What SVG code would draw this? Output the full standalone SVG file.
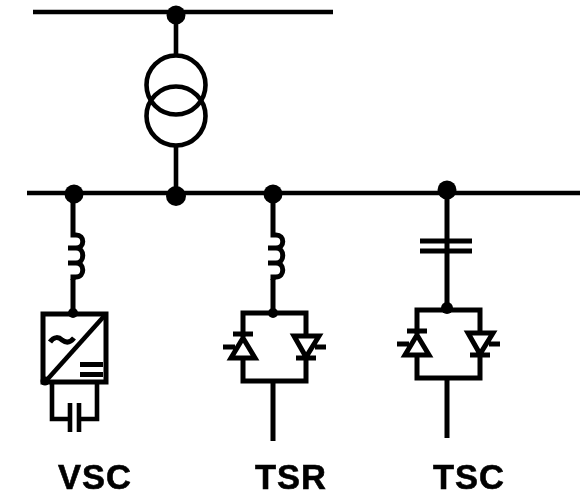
<svg xmlns="http://www.w3.org/2000/svg" width="580" height="496" viewBox="0 0 580 496">
<style>
.l{fill:none;stroke:#000;stroke-width:5}
.c{fill:none;stroke:#000;stroke-width:4.600}
.d{fill:#000}
.lb{font-family:"Liberation Sans",Arial,sans-serif;font-weight:700;font-size:34.500px;letter-spacing:1px;fill:#000;stroke:#000;stroke-width:0.600;text-anchor:middle}
</style>
<defs>
<filter id="soft" x="-5%" y="-5%" width="110%" height="110%"><feGaussianBlur stdDeviation="0.7"/></filter>
<path id="ind" class="l" d="M0 0V2H3C12 2 12 15 3 15H-5M3 15C12 15 12 30 3 30H-5M3 30C12 30 12 44 3 44H0V47"/>
<g id="thy">
<path class="l" d="M-30 -13V-37H33V-14M-30 8V31H33V7"/>
<path class="l" d="M-30 -12L-42 8H-18ZM-40 -16H-20M-50 -3H-38"/>
<path class="l" d="M33 7L21 -14H46ZM23 8H43M42 -3H53"/>
</g>
</defs>
<g filter="url(#soft)">
<g id="connectors">
<path class="c" d="M33 12H333"/>
<path class="c" d="M27 193H580"/>
<path class="c" d="M176 15V55M176 146V196"/>
<path class="l" d="M73 195V233M73 279V313"/>
<path class="l" d="M273 193V233M273 279V313M273 381V441"/>
<path class="l" d="M447 190V309M447 378V438"/>
</g>
<g id="bus-dots">
<circle class="d" cx="176" cy="15" r="9.500"/>
<circle class="d" cx="176" cy="196" r="10"/>
<circle class="d" cx="74" cy="194" r="9.500"/>
<circle class="d" cx="273" cy="194" r="9.500"/>
<circle class="d" cx="447" cy="190" r="9.500"/>
</g>
<g id="transformer">
<circle class="c" cx="176" cy="85" r="29.500"/>
<circle class="c" cx="176" cy="116" r="29.500"/>
</g>
<g id="vsc">
<use href="#ind" x="73" y="233"/>
<rect class="l" x="43" y="314" width="63" height="68"/>
<circle class="d" cx="73" cy="313" r="5"/>
<circle class="d" cx="45" cy="381" r="4.500"/>
<path class="c" d="M106 314L45 382"/>
<path class="l" d="M50 342C54 336 59 337 62 340C66 343 70 343 74 338"/>
<path class="l" d="M80 364.500H103M80 374.500H103"/>
<path class="c" d="M52 383V419H70M97 383V419H79M70 403V432M79 403V432"/>
<text class="lb" x="95" y="488.500">VSC</text>
</g>
<g id="tsr">
<use href="#ind" x="273" y="233"/>
<use href="#thy" x="273" y="350"/>
<circle class="d" cx="273" cy="313" r="5"/>
<text class="lb" x="291" y="488.500">TSR</text>
</g>
<g id="tsc">
<path class="l" d="M420 241H472M420 251H472"/>
<use href="#thy" x="447" y="347"/>
<circle class="d" cx="447" cy="308" r="6"/>
<text class="lb" x="469" y="488.500">TSC</text>
</g>
</g>
</svg>
